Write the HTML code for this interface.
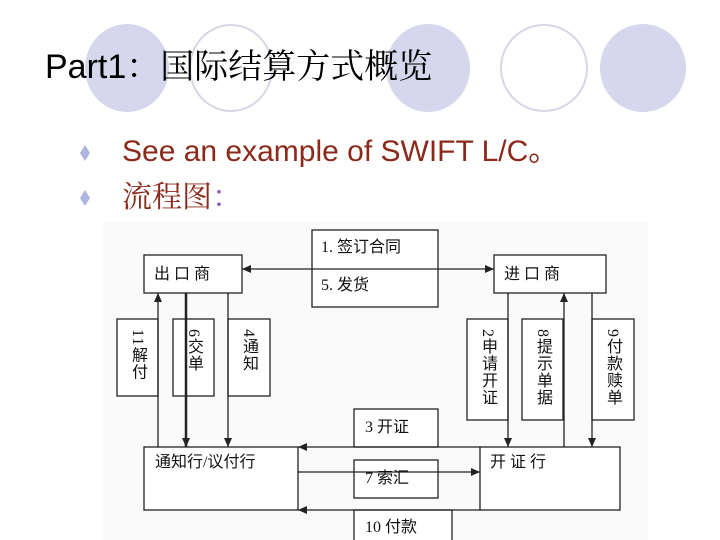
<!DOCTYPE html>
<html><head><meta charset="utf-8"><style>
body{margin:0;width:720px;height:540px;background:#fff;position:relative;overflow:hidden;font-family:"Liberation Sans","Noto Sans CJK SC",sans-serif}
.a{position:absolute;white-space:nowrap}
.t{position:absolute;font-family:"Liberation Serif","Noto Sans CJK SC",serif;font-size:16px;color:#111;white-space:nowrap;line-height:18px}
.v{position:absolute;writing-mode:vertical-rl;font-family:"Liberation Serif","Noto Sans CJK SC",serif;font-size:16px;color:#111;line-height:16px;letter-spacing:1px}
</style></head><body>
<svg class="a" style="left:0;top:0" width="720" height="540">
<ellipse cx="127" cy="68" rx="42" ry="44" fill="#d6d6ec"/>
<ellipse cx="231" cy="68" rx="41" ry="43" fill="none" stroke="#d6d6e6" stroke-width="2"/>
<ellipse cx="428" cy="68" rx="42" ry="44" fill="#d6d6ec"/>
<ellipse cx="544" cy="68" rx="43" ry="43" fill="none" stroke="#d6d6e6" stroke-width="2"/>
<ellipse cx="643" cy="68" rx="43" ry="44" fill="#d6d6ec"/>
<polygon points="85,145 90,153 85,161 80,153" fill="#b0b4e0"/>
<polygon points="85,190 90,198 85,206 80,198" fill="#b0b4e0"/>
<rect x="103" y="222" width="545" height="318" fill="#fafafa"/>
<g fill="#fff" stroke="#222" stroke-width="1.3">
<rect x="144" y="255" width="98" height="38"/>
<rect x="312" y="230" width="126" height="77"/>
<rect x="494" y="255" width="112" height="38"/>
<rect x="117" y="319" width="41" height="77"/>
<rect x="173" y="319" width="41" height="77"/>
<rect x="228" y="319" width="42" height="77"/>
<rect x="467" y="319" width="41" height="101"/>
<rect x="522" y="319" width="41" height="101"/>
<rect x="592" y="319" width="42" height="101"/>
<rect x="144" y="447" width="154" height="63"/>
<rect x="480" y="447" width="140" height="63"/>
<rect x="354" y="409" width="84" height="38"/>
<rect x="354" y="460" width="84" height="38"/>
<rect x="354" y="510" width="98" height="38"/>
</g>
<g stroke="#222" stroke-width="1.3" fill="none">
<line x1="242" y1="269" x2="494" y2="269"/>
<line x1="158" y1="293" x2="158" y2="447"/>
<line x1="186" y1="293" x2="186" y2="447" stroke-width="2.5"/>
<line x1="228" y1="293" x2="228" y2="447"/>
<line x1="508" y1="293" x2="508" y2="447"/>
<line x1="564" y1="293" x2="564" y2="447"/>
<line x1="592" y1="293" x2="592" y2="447"/>
<line x1="298" y1="447" x2="480" y2="447"/>
<line x1="298" y1="472" x2="480" y2="472"/>
<line x1="298" y1="510" x2="480" y2="510"/>
</g>
<g fill="#222">
<polygon points="242,269 251,265 251,273"/>
<polygon points="494,269 485,265 485,273"/>
<polygon points="158,293 154,302 162,302"/>
<polygon points="186,447 182,438 190,438"/>
<polygon points="228,447 224,438 232,438"/>
<polygon points="508,447 504,438 512,438"/>
<polygon points="564,293 560,302 568,302"/>
<polygon points="592,447 588,438 596,438"/>
<polygon points="298,447 307,443 307,451"/>
<polygon points="480,472 471,468 471,476"/>
<polygon points="298,510 307,506 307,514"/>
</g>
</svg>
<div class="a" style="left:45px;top:47px;font-size:34px;line-height:40px;color:#000;font-family:'Liberation Sans','Noto Serif CJK SC',serif">Part1：国际结算方式概览</div>
<div class="a" style="left:122px;top:134px;font-size:30px;line-height:36px;color:#8b2a1a">See an example of SWIFT L/C。</div>
<div class="a" style="left:122px;top:180px;font-size:30px;line-height:36px;color:#8b2a1a;font-family:'Liberation Serif','Noto Serif CJK SC',serif">流程图<span style="color:#8a5ac0">：</span></div>
<div class="t" style="left:154px;top:266px">出 口 商</div>
<div class="t" style="left:321px;top:239px">1.  签订合同</div>
<div class="t" style="left:321px;top:277px">5.  发货</div>
<div class="t" style="left:504px;top:266px">进 口 商</div>
<div class="v" style="left:129px;top:329px">11解付</div>
<div class="v" style="left:185px;top:329px">6交单</div>
<div class="v" style="left:240px;top:329px">4通知</div>
<div class="v" style="left:479px;top:329px">2申请开证</div>
<div class="v" style="left:534px;top:329px">8提示单据</div>
<div class="v" style="left:604px;top:329px">9付款赎单</div>
<div class="t" style="left:155px;top:454px">通知行/议付行</div>
<div class="t" style="left:490px;top:454px">开 证 行</div>
<div class="t" style="left:365px;top:419px">3 开证</div>
<div class="t" style="left:365px;top:470px">7 索汇</div>
<div class="t" style="left:365px;top:519px">10 付款</div>
</body></html>
